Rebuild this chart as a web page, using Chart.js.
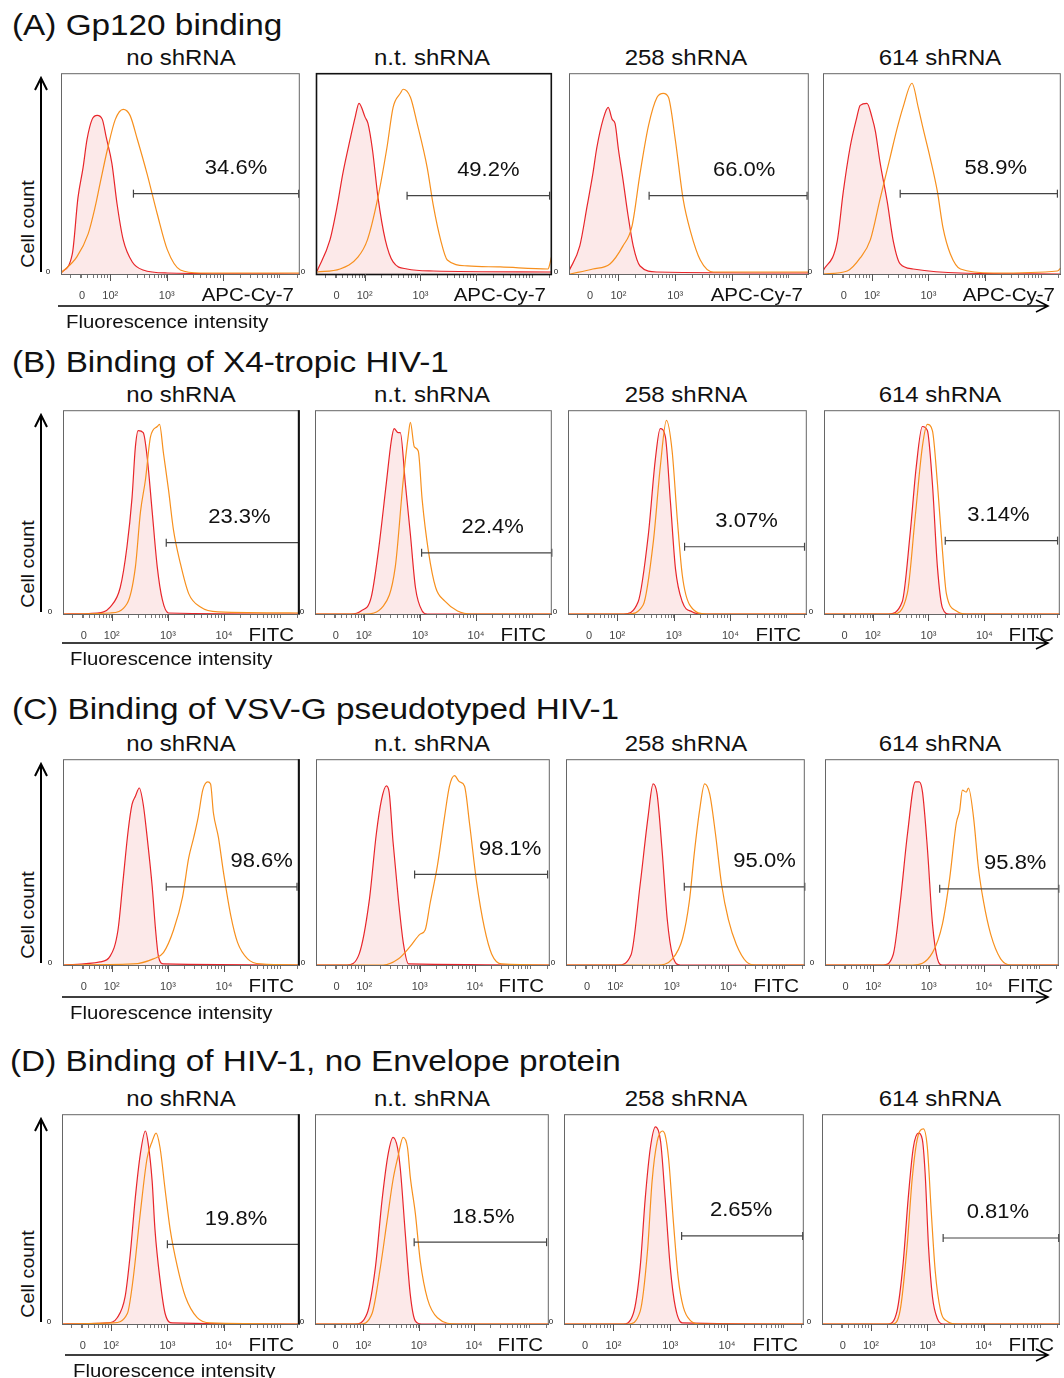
<!DOCTYPE html>
<html>
<head>
<meta charset="utf-8">
<script src="https://cdn.jsdelivr.net/npm/chart.js@4.4.0/dist/chart.umd.min.js"></script>
<style>
  body { margin: 0; background: #fff; width: 1064px; height: 1378px; position: relative; overflow: hidden;
         font-family: "Liberation Sans", Arial, sans-serif; color: #111; }
  .t { position: absolute; white-space: nowrap; line-height: 1; }
  .panel { position: absolute; }
  svg { position: absolute; left: 0; top: 0; }
</style>
</head>
<body>
<script>
// ---- data (x in log10 fluorescence units, y in % of max cell count) ----
const sectionTitles = ['(A) Gp120 binding', '(B) Binding of X4-tropic HIV-1',
  '(C) Binding of VSV-G pseudotyped HIV-1', '(D) Binding of HIV-1, no Envelope protein'];
const panelTitles = ['no shRNA', 'n.t. shRNA', '258 shRNA', '614 shRNA'];
const channels = ['APC-Cy-7', 'FITC', 'FITC', 'FITC'];
const tickVals = [1.5, 2, 3, 4];
const tickText = ['0', '10\u00b2', '10\u00b3', '10\u2074'];
const ticksShown = [3, 4, 4, 4];

const a1Red = [[1.13,0.5],[1.33,10],[1.43,38],[1.52,53],[1.59,67],[1.68,77],[1.77,79],[1.86,77],[1.93,68],[2.03,55],[2.12,35],[2.23,17],[2.39,6],[2.58,2],[3.01,0.5],[5.35,0]];
const a1Orange = [[1.13,0.5],[1.41,8.5],[1.61,20],[1.73,33],[1.82,45],[1.95,62],[2.09,77],[2.23,82],[2.35,79],[2.48,67],[2.65,50],[2.83,30],[3.01,12],[3.24,2],[3.59,0.5],[5.35,0.5]];
const a2Red = [[1.15,1.5],[1.38,17],[1.51,34],[1.61,50],[1.74,67],[1.83,78],[1.90,85],[2.01,78],[2.06,75],[2.14,62],[2.24,38],[2.37,17],[2.51,6],[2.76,2.5],[3.23,1.5],[5.35,1]];
const a2Orange = [[1.15,1],[1.56,2.5],[1.88,8.4],[2.05,17],[2.23,37],[2.40,63],[2.51,83],[2.64,90],[2.69,92],[2.82,88],[2.94,75],[3.12,53],[3.23,34],[3.36,17],[3.48,7],[3.84,4],[4.43,3.5],[5.28,2.5],[5.35,9]];
const a3Red = [[1.13,1.5],[1.32,14],[1.45,34],[1.55,50],[1.62,63],[1.73,77],[1.82,83],[1.89,77],[1.94,75],[2.00,62],[2.08,47],[2.17,29],[2.26,14],[2.38,4],[2.68,1],[5.35,0.5]];
const a3Orange = [[1.15,0],[1.55,2.5],[1.85,5],[2.08,14],[2.24,24],[2.38,50],[2.53,74],[2.68,88],[2.79,90],[2.88,88],[3.00,67],[3.14,37],[3.27,21],[3.44,7],[3.67,1],[5.35,1]];
const a4Red = [[1.13,1.5],[1.38,16],[1.49,41],[1.61,63],[1.73,78],[1.79,84],[1.91,85],[2.00,78],[2.06,71],[2.14,56],[2.27,36],[2.38,16],[2.50,5],[2.73,2.5],[3.57,0.5],[5.35,0]];
const a4Orange = [[1.13,0],[1.56,1.5],[1.79,8],[1.97,17],[2.14,37],[2.32,58],[2.45,73],[2.55,83],[2.71,95],[2.82,83],[2.91,72],[3.03,58],[3.16,41],[3.26,23],[3.39,10],[3.57,2.5],[4.15,0.5],[5.29,1.5],[5.35,3]];

const b1Red = [[1.13,0],[1.74,0.5],[1.97,3.4],[2.15,13],[2.27,33],[2.36,57],[2.42,82],[2.47,90],[2.56,89],[2.63,77],[2.72,50],[2.81,23],[2.90,7],[3.01,0.5],[5.35,0]];
const b1Orange = [[1.13,0],[1.97,0.5],[2.27,5],[2.42,23],[2.51,50],[2.60,66],[2.69,87],[2.81,92],[2.85,93],[2.92,79],[3.01,61],[3.10,41],[3.22,25],[3.37,10],[3.58,3.4],[3.89,1],[5.35,0.5]];
const b2Red = [[1.13,0],[1.77,0],[1.95,1.5],[2.13,8],[2.26,31],[2.40,64],[2.49,85],[2.54,91],[2.61,89],[2.65,89],[2.74,64],[2.83,39],[2.92,13],[3.04,1.5],[3.13,0],[5.35,0]];
const b2Orange = [[1.13,0],[2.01,0],[2.35,4],[2.56,23],[2.70,65],[2.79,87],[2.83,94],[2.90,82],[2.97,80],[3.04,56],[3.15,31],[3.28,13],[3.44,6.4],[3.67,1.5],[3.92,0],[5.35,0]];
const b3Red = [[1.13,0],[2.11,0],[2.37,6],[2.55,39],[2.67,75],[2.76,91],[2.85,87],[2.94,55],[3.03,22],[3.15,6],[3.33,1],[3.51,0],[5.35,0]];
const b3Orange = [[1.13,0],[2.19,0],[2.46,4.5],[2.64,36],[2.76,72],[2.87,95],[2.97,80],[3.06,47],[3.15,19],[3.28,4.5],[3.58,0],[5.35,0]];
const b4Red = [[1.13,0],[2.28,0],[2.53,6],[2.67,39],[2.78,72],[2.89,92],[2.98,90],[3.07,64],[3.16,23],[3.25,3],[3.37,0],[5.35,0]];
const b4Orange = [[1.13,0],[2.37,0],[2.62,10],[2.76,47],[2.89,82],[2.98,93],[3.07,90],[3.16,64],[3.25,31],[3.32,10],[3.50,1.5],[3.68,0],[5.35,0]];

const c1Red = [[1.13,0],[1.79,1.5],[1.97,4.3],[2.11,17],[2.20,41],[2.29,65],[2.36,78],[2.42,82],[2.49,86],[2.56,78],[2.63,62],[2.72,38],[2.78,17],[2.83,4.3],[2.92,0.5],[5.35,0]];
const c1Orange = [[1.13,0],[2.38,0.5],[2.74,3],[2.92,6],[3.10,17],[3.26,33],[3.37,52],[3.46,62],[3.54,72],[3.62,85],[3.71,89],[3.76,88],[3.81,74],[3.90,62],[3.99,45],[4.12,24],[4.24,11],[4.42,3],[4.65,0.5],[5.35,0]];
const c2Red = [[1.13,0],[1.69,0],[1.91,5.4],[2.09,31],[2.22,64],[2.31,80],[2.40,87],[2.45,84],[2.52,60],[2.62,31],[2.71,10],[2.80,0.5],[5.35,0]];
const c2Orange = [[1.13,0],[2.34,0],[2.62,3],[2.83,9],[3.01,15],[3.10,17],[3.19,30],[3.32,48],[3.45,72],[3.54,87],[3.63,92],[3.72,89],[3.81,87],[3.90,69],[4.03,40],[4.17,18],[4.30,5.4],[4.48,0.5],[5.35,0]];
const c3Red = [[1.13,0],[2.05,0],[2.28,5],[2.44,39],[2.58,72],[2.67,88],[2.74,83],[2.83,55],[2.92,22],[3.01,5],[3.15,0],[5.35,0]];
const c3Orange = [[1.13,0],[2.74,0],[3.01,3],[3.19,13],[3.31,31],[3.40,55],[3.49,75],[3.58,88],[3.67,83],[3.77,64],[3.88,39],[4.00,22],[4.14,10],[4.32,1.5],[4.48,0],[5.35,0]];
const c4Red = [[1.13,0],[2.18,0],[2.36,5],[2.49,31],[2.62,64],[2.76,89],[2.83,89],[2.89,84],[2.98,56],[3.07,20],[3.16,3],[3.25,0],[5.35,0]];
const c4Orange = [[1.13,0],[2.71,0],[3.07,6],[3.25,20],[3.38,42],[3.50,69],[3.56,75],[3.61,85],[3.68,84],[3.72,86],[3.81,72],[3.90,47],[3.99,31],[4.12,15],[4.30,3],[4.48,0],[5.35,0]];

const d1Red = [[1.13,0],[1.93,0.5],[2.11,3],[2.25,13],[2.34,33],[2.43,60],[2.52,81],[2.61,92],[2.66,86],[2.73,68],[2.78,45],[2.87,21],[2.96,5],[3.09,0.5],[5.35,0]];
const d1Orange = [[1.13,0],[2.04,0.5],[2.29,5],[2.39,21],[2.52,53],[2.64,79],[2.73,87],[2.80,91],[2.87,84],[2.96,64],[3.05,45],[3.18,27],[3.32,13],[3.53,3],[3.76,0.5],[5.35,0]];
const d2Red = [[1.13,0],[1.85,0],[2.07,5],[2.22,27],[2.34,59],[2.45,81],[2.54,89],[2.62,84],[2.67,74],[2.76,43],[2.85,14],[2.94,1.5],[3.05,0],[5.35,0]];
const d2Orange = [[1.13,0],[1.94,0],[2.16,5],[2.31,27],[2.43,49],[2.54,69],[2.63,80],[2.72,89],[2.80,84],[2.85,70],[2.94,53],[3.03,30],[3.16,12],[3.34,3],[3.70,0],[5.35,0]];
const d3Red = [[1.13,0],[2.17,0],[2.35,5],[2.47,27],[2.56,60],[2.65,84],[2.74,94],[2.83,87],[2.91,60],[3.00,27],[3.09,8],[3.21,0.5],[5.35,0]];
const d3Orange = [[1.13,0],[2.26,0],[2.47,6],[2.60,35],[2.68,68],[2.77,87],[2.86,92],[2.91,90],[2.97,79],[3.06,47],[3.14,22],[3.23,8],[3.36,1.5],[3.53,0],[5.35,0]];
const d4Red = [[1.13,0],[2.30,0],[2.46,6],[2.57,29],[2.66,60],[2.75,84],[2.84,91],[2.91,88],[2.96,72],[3.02,37],[3.09,13],[3.18,2.4],[3.28,0],[5.35,0]];
const d4Orange = [[1.13,0],[2.38,0],[2.52,7],[2.64,37],[2.73,69],[2.82,88],[2.93,93],[3.00,84],[3.07,53],[3.14,25],[3.23,7],[3.37,1],[3.53,0],[5.35,0]];

const controlCurves = [[a1Red, a2Red, a3Red, a4Red], [b1Red, b2Red, b3Red, b4Red],
  [c1Red, c2Red, c3Red, c4Red], [d1Red, d2Red, d3Red, d4Red]];
const stainedCurves = [[a1Orange, a2Orange, a3Orange, a4Orange], [b1Orange, b2Orange, b3Orange, b4Orange],
  [c1Orange, c2Orange, c3Orange, c4Orange], [d1Orange, d2Orange, d3Orange, d4Orange]];

const gateStart = [[2.41, 2.76, 2.54, 2.50], [2.97, 3.03, 3.19, 3.30], [2.97, 2.91, 3.22, 3.20], [3.00, 2.92, 3.20, 3.28]];
const gateEnd = [[5.33, 5.31, 5.32, 5.29], [5.33, 5.35, 5.31, 5.31], [5.30, 5.31, 5.35, 5.35], [5.33, 5.31, 5.33, 5.33]];
const gateLevel = [[40, 39, 39, 40], [35, 30, 33, 36], [38, 44, 38, 37], [38, 39, 42, 41]];
const gatePct = [['34.6%', '49.2%', '66.0%', '58.9%'], ['23.3%', '22.4%', '3.07%', '3.14%'],
  ['98.6%', '98.1%', '95.0%', '95.8%'], ['19.8%', '18.5%', '2.65%', '0.81%']];

// ---- layout (pixels) ----
const X_MIN = 1.13, X_MAX = 5.35;
const rowTop = [73, 410, 759, 1114];
const rowBottom = [274, 614, 965, 1324];
const boxLeft = [[61, 316, 569, 823], [63, 315, 568, 824], [63, 316, 566, 825], [62, 315, 564, 822]];
const boxRight = [[299, 551, 808, 1060], [299, 551, 806, 1059], [299, 549, 804, 1058], [299, 548, 803, 1059]];
const sectionY = [25, 362, 709, 1061];
const panelTitleY = [58, 395, 744, 1099];
const panelTitleX = [181, 432, 686, 940];
const arrowY = [306, 643, 997, 1355];
const arrowX0 = [58, 62, 62, 65];
const fluorX = [66, 70, 70, 73];
const labelShift = [[20, 10, 16, 17], [7, 6, 2, -3], [30, 29, 20, 16], [3, 3, -1, -3]];
const heavyFrame = [[0, 2, 0, 0], [1, 0, 0, 0], [1, 0, 0, 0], [1, 0, 0, 0]];

const RED = '#e8262b', ORANGE = '#f7901e', PINK = '#fce9e9';
const FONT = '"Liberation Sans", Arial, sans-serif';

function text(str, x, y, size, anchor, extra) {
  const el = document.createElement('div');
  el.className = 't';
  el.textContent = str;
  el.style.left = x + 'px';
  el.style.top = y + 'px';
  el.style.fontSize = size + 'px';
  const tx = anchor === 'c' ? '-50%' : anchor === 'r' ? '-100%' : '0';
  el.style.transformOrigin = anchor === 'c' ? '50% 50%' : anchor === 'r' ? '100% 50%' : '0 50%';
  el.style.transform = `translate(${tx},-50%)` + (extra || '');
  document.body.appendChild(el);
  return el;
}

const pts = arr => arr.map(p => ({ x: p[0], y: p[1] }));

const minorTicks = [];
for (let n = 1; n <= 5; n++) {
  for (let k = 1; k <= 9; k++) {
    const v = n + Math.log10(k);
    if (v > X_MIN && v < X_MAX) minorTicks.push(v);
  }
}

const framePlugin = {
  id: 'frame',
  afterDraw(chart, args, opts) {
    const { ctx, chartArea: a, scales } = chart;
    ctx.save();
    ctx.strokeStyle = opts.heavy === 2 ? '#111' : '#666';
    ctx.lineWidth = opts.heavy === 2 ? 1.6 : 1;
    ctx.strokeRect(a.left + 0.5, a.top + 0.5, a.right - a.left - 1, a.bottom - a.top);
    if (opts.heavy === 1) {
      ctx.strokeStyle = '#111';
      ctx.lineWidth = 2;
      ctx.beginPath();
      ctx.moveTo(a.right - 1, a.top);
      ctx.lineTo(a.right - 1, a.bottom);
      ctx.stroke();
    }
    // longer major ticks
    ctx.strokeStyle = '#555';
    ctx.lineWidth = 1;
    [2, 3, 4].forEach(v => {
      const px = Math.round(scales.x.getPixelForValue(v)) + 0.5;
      ctx.beginPath();
      ctx.moveTo(px, a.bottom);
      ctx.lineTo(px, a.bottom + 7);
      ctx.stroke();
    });
    // gate percentage
    const g = chart.data.datasets[2].data;
    const mid = (scales.x.getPixelForValue(g[0].x) + scales.x.getPixelForValue(g[1].x)) / 2;
    const gy = scales.y.getPixelForValue(g[0].y);
    ctx.fillStyle = '#111';
    ctx.font = '20px ' + FONT;
    ctx.textAlign = 'center';
    ctx.textBaseline = 'middle';
    ctx.translate(mid + opts.shift, gy - 25);
    ctx.scale(1.1, 1);
    ctx.fillText(opts.pct, 0, 0);
    ctx.restore();
  }
};

function makePanel(r, c) {
  const left = boxLeft[r][c], right = boxRight[r][c];
  const top = rowTop[r], bottom = rowBottom[r];
  const w = right - left, h = bottom - top;
  const wrap = document.createElement('div');
  wrap.className = 'panel';
  wrap.style.left = (left - 20) + 'px';
  wrap.style.top = (top - 5) + 'px';
  const canvas = document.createElement('canvas');
  canvas.width = w + 26;
  canvas.height = h + 40;
  wrap.appendChild(canvas);
  document.body.appendChild(wrap);

  const shown = ticksShown[r];
  new Chart(canvas, {
    type: 'line',
    data: {
      datasets: [
        { data: pts(controlCurves[r][c]), borderColor: RED, backgroundColor: PINK, fill: 'origin',
          borderWidth: 1.2, pointRadius: 0, cubicInterpolationMode: 'monotone', order: 3 },
        { data: pts(stainedCurves[r][c]), borderColor: ORANGE, fill: false,
          borderWidth: 1.2, pointRadius: 0, cubicInterpolationMode: 'monotone', order: 2 },
        { data: [{ x: gateStart[r][c], y: gateLevel[r][c] }, { x: gateEnd[r][c], y: gateLevel[r][c] }],
          borderColor: '#444', borderWidth: 1.2, pointStyle: 'line', rotation: 90, pointRadius: 4,
          pointBorderColor: '#444', pointBorderWidth: 1.2, fill: false, order: 1, clip: 6 }
      ]
    },
    options: {
      responsive: false,
      animation: false,
      layout: { padding: { top: 5, right: 4, left: 20, bottom: 0 } },
      plugins: {
        legend: { display: false },
        tooltip: { enabled: false },
        frame: { pct: gatePct[r][c], shift: labelShift[r][c], heavy: heavyFrame[r][c] }
      },
      scales: {
        x: {
          type: 'linear', min: X_MIN, max: X_MAX,
          afterFit: s => { s.height = 35; s.paddingLeft = 0; s.paddingRight = 0; },
          afterBuildTicks: s => { s.ticks = minorTicks.concat([1.5]).sort((p, q) => p - q).map(v => ({ value: v })); },
          ticks: {
            autoSkip: false, maxRotation: 0, padding: 11, color: '#444',
            font: { size: 11, family: FONT },
            callback: v => {
              const i = tickVals.findIndex(t => Math.abs(t - v) < 1e-6);
              return i >= 0 && i < shown ? tickText[i] : '';
            }
          },
          grid: { drawOnChartArea: false, tickLength: 4, color: '#777' },
          border: { color: '#333', width: 1 }
        },
        y: { display: false, min: 0, max: 100 }
      }
    },
    plugins: [framePlugin]
  });
  text('0', left - 13, bottom - 2, 8, 'c');
}

for (let r = 0; r < 4; r++) {
  text(sectionTitles[r], r === 3 ? 10 : 12, sectionY[r], 30, 'l', ' scaleX(1.11)');
  for (let c = 0; c < 4; c++) {
    text(panelTitles[c], panelTitleX[c], panelTitleY[r], 22, 'c', ' scaleX(1.09)');
    makePanel(r, c);
    text(channels[r], boxRight[r][c] - 5, rowBottom[r] + 20, 19, 'r', ' scaleX(1.08)');
  }
  text('Cell count', 28, rowBottom[r] - 50, 18, 'c', ' rotate(-90deg) scaleX(1.09)');
  text('Fluorescence intensity', fluorX[r], arrowY[r] + 16, 18, 'l', ' scaleX(1.13)');
}

// axis arrows
const NS = 'http://www.w3.org/2000/svg';
const svg = document.createElementNS(NS, 'svg');
svg.setAttribute('width', 1064);
svg.setAttribute('height', 1378);
function path(d, wdt) {
  const p = document.createElementNS(NS, 'path');
  p.setAttribute('d', d);
  p.setAttribute('stroke', '#000');
  p.setAttribute('stroke-width', wdt);
  p.setAttribute('fill', 'none');
  svg.appendChild(p);
}
for (let r = 0; r < 4; r++) {
  const tipY = rowTop[r] + 5, y0 = rowBottom[r] - 2;
  path(`M41 ${y0} L41 ${tipY} M35 ${tipY + 12} L41 ${tipY} L47 ${tipY + 12}`, 2);
  const y = arrowY[r];
  path(`M${arrowX0[r]} ${y} L1048 ${y} M1036 ${y - 6} L1048 ${y} L1036 ${y + 6}`, 1.6);
}
document.body.appendChild(svg);
</script>
</body>
</html>
